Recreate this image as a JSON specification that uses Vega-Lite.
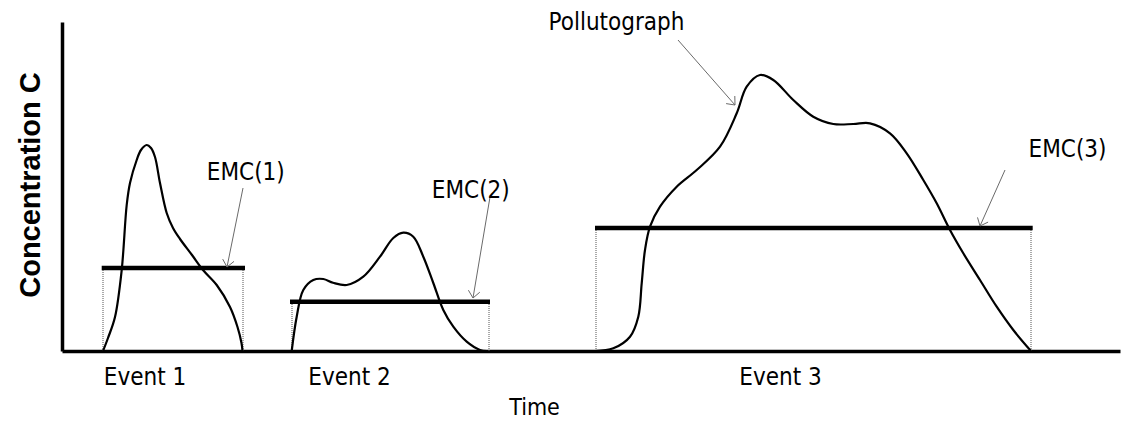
{
  "$schema": "https://vega.github.io/schema/vega-lite/v6.json",
  "width": 1058,
  "height": 329,
  "autosize": "none",
  "padding": {"left": 62, "top": 22, "right": 1, "bottom": 70},
  "background": "white",
  "config": {"view": {"stroke": null}},
  "encoding": {
    "x": {
      "field": "time", "type": "quantitative",
      "scale": {"domain": [0, 1058], "nice": false, "zero": false},
      "axis": {
        "title": "Time", "titleFont": "DejaVu Sans Condensed, Open Sans, sans-serif", "titleFontSize": 23, "titleFontWeight": "normal", "titleColor": "#000",
        "titleBaseline": "alphabetic", "titleY": 63, "titleX": 472, "titleAnchor": null,
        "values": [82.5, 287, 718],
        "labelExpr": "datum.value < 150 ? 'Event 1' : datum.value < 500 ? 'Event 2' : 'Event 3'",
        "labelFont": "DejaVu Sans Condensed, Open Sans, sans-serif", "labelFontSize": 24, "labelColor": "#000",
        "labelBaseline": "alphabetic", "labelPadding": 33, "labelOverlap": false, "labelFlush": false,
        "ticks": false, "tickSize": 0, "grid": false,
        "domainColor": "#000", "domainWidth": 3.5
      }
    },
    "y": {
      "field": "conc", "type": "quantitative",
      "scale": {"domain": [0, 329], "nice": false},
      "axis": {
        "title": "Concentration C", "titleFont": "Liberation Sans, Arial, sans-serif", "titleFontSize": 29, "titleFontWeight": "bold", "titleColor": "#000",
        "titleAngle": -90, "titleBaseline": "alphabetic", "titleAlign": "center", "titleX": -23, "titleY": 162.5,
        "labels": false, "ticks": false, "tickSize": 0, "grid": false,
        "domainColor": "#000", "domainWidth": 3.5
      }
    }
  },
  "layer": [
    {
      "data": {"values": [
        {"event": "E1", "x": 41, "c0": 0, "c1": 83},
        {"event": "E1", "x": 181, "c0": 0, "c1": 83},
        {"event": "E2", "x": 230, "c0": 0, "c1": 49.3},
        {"event": "E2", "x": 427, "c0": 0, "c1": 49.3},
        {"event": "E3", "x": 534, "c0": 0, "c1": 123},
        {"event": "E3", "x": 969, "c0": 0, "c1": 123}
      ]},
      "mark": {"type": "rule", "color": "#555", "strokeWidth": 1, "strokeDash": [1, 1]},
      "encoding": {
        "x": {"field": "x", "type": "quantitative"},
        "y": {"field": "c0", "type": "quantitative"},
        "y2": {"field": "c1"}
      }
    },
    {
      "data": {"values": [
        {"event": "Event 1", "time": 41, "conc": 0},
        {"event": "Event 1", "time": 46, "conc": 13},
        {"event": "Event 1", "time": 53, "conc": 34},
        {"event": "Event 1", "time": 59.7, "conc": 81},
        {"event": "Event 1", "time": 64.7, "conc": 146},
        {"event": "Event 1", "time": 68, "conc": 168},
        {"event": "Event 1", "time": 74.7, "conc": 191},
        {"event": "Event 1", "time": 79, "conc": 201},
        {"event": "Event 1", "time": 84.7, "conc": 206},
        {"event": "Event 1", "time": 89, "conc": 203},
        {"event": "Event 1", "time": 93, "conc": 194},
        {"event": "Event 1", "time": 98, "conc": 168},
        {"event": "Event 1", "time": 104.7, "conc": 138},
        {"event": "Event 1", "time": 111, "conc": 123},
        {"event": "Event 1", "time": 118, "conc": 112},
        {"event": "Event 1", "time": 130, "conc": 96},
        {"event": "Event 1", "time": 141, "conc": 81},
        {"event": "Event 1", "time": 154.7, "conc": 66},
        {"event": "Event 1", "time": 168, "conc": 44},
        {"event": "Event 1", "time": 175.5, "conc": 24},
        {"event": "Event 1", "time": 179.5, "conc": 8},
        {"event": "Event 1", "time": 180.5, "conc": 0},
        {"event": "Event 2", "time": 229.7, "conc": 0},
        {"event": "Event 2", "time": 234.7, "conc": 34.3},
        {"event": "Event 2", "time": 241.3, "conc": 61},
        {"event": "Event 2", "time": 251.3, "conc": 71},
        {"event": "Event 2", "time": 261.3, "conc": 72},
        {"event": "Event 2", "time": 271, "conc": 68.3},
        {"event": "Event 2", "time": 284.7, "conc": 66},
        {"event": "Event 2", "time": 301.3, "conc": 74.3},
        {"event": "Event 2", "time": 318, "conc": 94.3},
        {"event": "Event 2", "time": 331.3, "conc": 113},
        {"event": "Event 2", "time": 341.3, "conc": 118.3},
        {"event": "Event 2", "time": 351.3, "conc": 114.3},
        {"event": "Event 2", "time": 361.3, "conc": 94.3},
        {"event": "Event 2", "time": 371.3, "conc": 68},
        {"event": "Event 2", "time": 381.3, "conc": 41},
        {"event": "Event 2", "time": 391.3, "conc": 24.3},
        {"event": "Event 2", "time": 404.7, "conc": 9.3},
        {"event": "Event 2", "time": 418, "conc": 1},
        {"event": "Event 2", "time": 424.7, "conc": 0},
        {"event": "Event 3", "time": 533, "conc": 0},
        {"event": "Event 3", "time": 551.3, "conc": 2.7},
        {"event": "Event 3", "time": 568, "conc": 14.3},
        {"event": "Event 3", "time": 576.3, "conc": 34.3},
        {"event": "Event 3", "time": 579.7, "conc": 67.7},
        {"event": "Event 3", "time": 583, "conc": 101},
        {"event": "Event 3", "time": 588, "conc": 124.3},
        {"event": "Event 3", "time": 598, "conc": 144.3},
        {"event": "Event 3", "time": 614.7, "conc": 164.3},
        {"event": "Event 3", "time": 634.7, "conc": 181},
        {"event": "Event 3", "time": 658, "conc": 204.3},
        {"event": "Event 3", "time": 674.7, "conc": 237.7},
        {"event": "Event 3", "time": 684.7, "conc": 264.3},
        {"event": "Event 3", "time": 698, "conc": 276},
        {"event": "Event 3", "time": 711.3, "conc": 271},
        {"event": "Event 3", "time": 731.3, "conc": 251},
        {"event": "Event 3", "time": 751.3, "conc": 234.3},
        {"event": "Event 3", "time": 771.3, "conc": 227},
        {"event": "Event 3", "time": 791.3, "conc": 227},
        {"event": "Event 3", "time": 808, "conc": 227.7},
        {"event": "Event 3", "time": 828, "conc": 217.7},
        {"event": "Event 3", "time": 844.7, "conc": 197.7},
        {"event": "Event 3", "time": 861.3, "conc": 171},
        {"event": "Event 3", "time": 874.7, "conc": 147.7},
        {"event": "Event 3", "time": 888, "conc": 121},
        {"event": "Event 3", "time": 901.3, "conc": 97.7},
        {"event": "Event 3", "time": 918, "conc": 71},
        {"event": "Event 3", "time": 934.7, "conc": 44.3},
        {"event": "Event 3", "time": 951.3, "conc": 21},
        {"event": "Event 3", "time": 969, "conc": 0}
      ]},
      "mark": {"type": "line", "interpolate": "catmull-rom", "color": "#000", "strokeWidth": 2.2},
      "encoding": {"detail": {"field": "event"}}
    },
    {
      "data": {"values": [
        {"event": "EMC(1)", "start": 39.7, "end": 183, "emc": 83},
        {"event": "EMC(2)", "start": 228, "end": 428, "emc": 49.3},
        {"event": "EMC(3)", "start": 533, "end": 970.7, "emc": 123}
      ]},
      "mark": {"type": "rule", "color": "#000", "strokeWidth": 4.5},
      "encoding": {
        "x": {"field": "start", "type": "quantitative"},
        "x2": {"field": "end"},
        "y": {"field": "emc", "type": "quantitative"}
      }
    },
    {
      "data": {"values": [
        {"id": "a1", "ord": 1, "time": 181, "conc": 163},
        {"id": "a1", "ord": 2, "time": 165, "conc": 84},
        {"id": "h1", "ord": 1, "time": 172, "conc": 89.6},
        {"id": "h1", "ord": 2, "time": 165, "conc": 84},
        {"id": "h1", "ord": 3, "time": 160.7, "conc": 91.9},
        {"id": "a2", "ord": 1, "time": 428, "conc": 154},
        {"id": "a2", "ord": 2, "time": 411, "conc": 53},
        {"id": "h2", "ord": 1, "time": 417.8, "conc": 58.8},
        {"id": "h2", "ord": 2, "time": 411, "conc": 53},
        {"id": "h2", "ord": 3, "time": 406.4, "conc": 60.8},
        {"id": "a3", "ord": 1, "time": 943, "conc": 181},
        {"id": "a3", "ord": 2, "time": 918, "conc": 125},
        {"id": "h3", "ord": 1, "time": 926.1, "conc": 128.9},
        {"id": "h3", "ord": 2, "time": 918, "conc": 125},
        {"id": "h3", "ord": 3, "time": 915.5, "conc": 133.6},
        {"id": "ap", "ord": 1, "time": 616, "conc": 311},
        {"id": "ap", "ord": 2, "time": 673, "conc": 246},
        {"id": "hp", "ord": 1, "time": 672.8, "conc": 255},
        {"id": "hp", "ord": 2, "time": 673, "conc": 246},
        {"id": "hp", "ord": 3, "time": 664.1, "conc": 247.4}
      ]},
      "mark": {"type": "line", "color": "#6a6a6a", "strokeWidth": 1},
      "encoding": {
        "detail": {"field": "id"},
        "order": {"field": "ord", "type": "quantitative"}
      }
    },
    {
      "data": {"values": [
        {"label": "Pollutograph", "time": 554.5, "conc": 321},
        {"label": "EMC(1)", "time": 183.8, "conc": 171},
        {"label": "EMC(2)", "time": 408.8, "conc": 152.7},
        {"label": "EMC(3)", "time": 1005.5, "conc": 194.3}
      ]},
      "mark": {"type": "text", "font": "DejaVu Sans Condensed, Open Sans, sans-serif", "fontSize": 24, "color": "#000", "align": "center", "baseline": "alphabetic", "clip": false},
      "encoding": {"text": {"field": "label"}}
    }
  ]
}
